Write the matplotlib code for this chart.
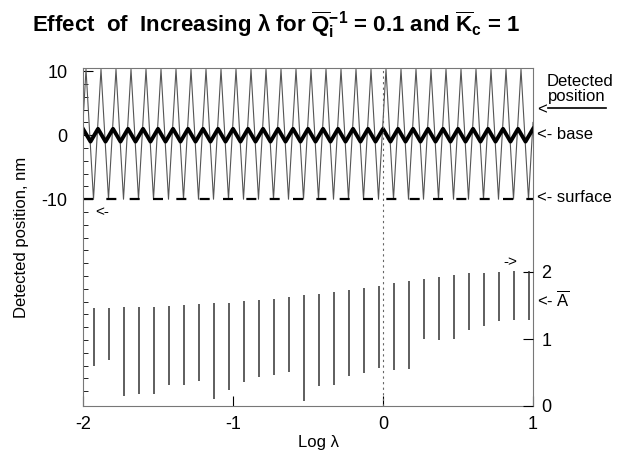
import matplotlib
matplotlib.use("Agg")
import matplotlib.pyplot as plt

plt.rcParams["font.family"] = ["Liberation Sans", "DejaVu Sans"]
plt.rcParams["mathtext.fontset"] = "custom"
plt.rcParams["mathtext.rm"] = "Liberation Sans"
plt.rcParams["mathtext.it"] = "Liberation Sans:italic"
plt.rcParams["mathtext.bf"] = "Liberation Sans:bold"
plt.rcParams["axes.unicode_minus"] = False

# ---- data (x = log lambda) ----
# thin curve: detected position, nm (peaks / troughs)
det_x = [-2.00, -1.98, -1.93, -1.88, -1.83, -1.78, -1.73, -1.68, -1.63, -1.58, -1.53,
         -1.48, -1.43, -1.38, -1.33, -1.28, -1.23, -1.18, -1.13, -1.08, -1.03,
         -0.98, -0.93, -0.88, -0.83, -0.78, -0.73, -0.68, -0.63, -0.58, -0.53,
         -0.48, -0.43, -0.38, -0.33, -0.28, -0.23, -0.18, -0.13, -0.08, -0.03,
         0.02, 0.07, 0.12, 0.17, 0.22, 0.27, 0.32, 0.37, 0.42, 0.47,
         0.52, 0.57, 0.62, 0.67, 0.72, 0.77, 0.82, 0.87, 0.92, 0.97, 1.00]
det_y = [2.0] + [10.3, -10.0] * 30 + [2.0]

# thick curve: base position, nm
base_x = [-2.00, -1.95, -1.90, -1.85, -1.80, -1.75, -1.70, -1.65, -1.60, -1.55,
          -1.50, -1.45, -1.40, -1.35, -1.30, -1.25, -1.20, -1.15, -1.10, -1.05,
          -1.00, -0.95, -0.90, -0.85, -0.80, -0.75, -0.70, -0.65, -0.60, -0.55,
          -0.50, -0.45, -0.40, -0.35, -0.30, -0.25, -0.20, -0.15, -0.10, -0.05,
          0.00, 0.05, 0.10, 0.15, 0.20, 0.25, 0.30, 0.35, 0.40, 0.45,
          0.50, 0.55, 0.60, 0.65, 0.70, 0.75, 0.80, 0.85, 0.90, 0.95, 1.00]
base_y = [1.0, -1.0] * 30 + [1.0]

surface_nm = -10.0

# amplitude A: one vertical spike per cycle (top / bottom)
spike_x = [-1.93, -1.83, -1.73, -1.63, -1.53, -1.43, -1.33, -1.23, -1.13, -1.03,
           -0.93, -0.83, -0.73, -0.63, -0.53, -0.43, -0.33, -0.23, -0.13, -0.03,
           0.07, 0.17, 0.27, 0.37, 0.47, 0.57, 0.67, 0.77, 0.87, 0.97]
spike_top = [1.47, 1.47, 1.48, 1.48, 1.48, 1.49, 1.51, 1.52, 1.54, 1.54,
             1.56, 1.58, 1.59, 1.62, 1.65, 1.67, 1.70, 1.73, 1.76, 1.79,
             1.83, 1.86, 1.90, 1.93, 1.96, 1.98, 1.99, 2.00, 2.02, 2.02]
spike_bot = [0.60, 0.68, 0.15, 0.18, 0.18, 0.31, 0.31, 0.38, 0.10, 0.24,
             0.36, 0.44, 0.47, 0.51, 0.08, 0.30, 0.31, 0.45, 0.50, 0.56,
             0.53, 0.55, 1.00, 0.99, 1.00, 1.13, 1.19, 1.27, 1.29, 1.28]

x_ticks = [-2, -1, 0, 1]
nm_ticks = [10, 0, -10]
nm_minor = [10, 8, 6, 4, 2, -2, -4, -6, -8, -12, -14, -16, -18, -20, -22, -24,
            -26, -28, -30, -32, -34, -36, -38, -40]
a_ticks = [0, 1, 2]

W, H = 622, 455


def fx(px):
    return px / W


def fy(py):
    return 1 - py / H


fig = plt.figure(figsize=(6.22, 4.55), dpi=100)
ax = fig.add_axes([fx(83), fy(406), (533 - 83) / W, (406 - 68) / H])

ax.plot(det_x, det_y, color="#555555", lw=0.8)
ax.plot(base_x, base_y, color="black", lw=2.8, solid_joinstyle="round")
ax.plot([-2, 1], [surface_nm, surface_nm], color="black", lw=1.6,
        linestyle=(0, (4.5, 6)))
ax.axvline(0, color="#666666", lw=0.8, linestyle=(0, (2, 3)))

ax.set_xlim(-2, 1)
ax.set_ylim(-42.3, 10.5)
ax.set_xticks(x_ticks)
ax.set_xticklabels([str(t) for t in x_ticks])
ax.set_yticks(nm_ticks)
ax.set_yticklabels([str(t) for t in nm_ticks])
ax.set_yticks(nm_minor, minor=True)
ax.tick_params(axis="both", which="major", direction="in", length=7, width=0.8,
               labelsize=13)
ax.tick_params(axis="y", which="major", pad=11)
ax.tick_params(axis="x", which="major", pad=7)
ax.tick_params(axis="y", which="minor", direction="in", length=3.5, width=0.6)
for s in ax.spines.values():
    s.set_color("#777777")
    s.set_linewidth(0.8)

# right axis for A
ax2 = ax.twinx()
ax2.set_ylim(0, (406 - 68) / 67)
ax2.vlines(spike_x, spike_bot, spike_top, color="#333333", lw=1.1)
ax2.set_yticks(a_ticks)
ax2.set_yticklabels([str(t) for t in a_ticks])
ax2.tick_params(axis="y", direction="in", length=7, width=0.8, labelsize=13, pad=6)
for s in ax2.spines.values():
    s.set_visible(False)

# labels
fig.text(fx(318), fy(442), "Log λ", fontsize=12, ha="center", va="center")
fig.text(fx(22), fy(237), "Detected position, nm", fontsize=12, rotation=90,
         ha="center", va="center")

title = (r"Effect  of  Increasing λ for $\overline{\mathbf{Q}}_{\mathbf{i}}^{\mathbf{-1}}$"
         r" = 0.1 and $\overline{\mathbf{K}}_{\mathbf{c}}$ = 1")
fig.text(fx(32), fy(25), title, fontsize=16, fontweight="bold", ha="left",
         va="center")

# right side annotations
fig.text(fx(547), fy(81), "Detected", fontsize=12, ha="left", va="center")
fig.text(fx(548), fy(97), "position", fontsize=12, ha="left", va="center")
fig.add_artist(plt.Line2D([fx(548), fx(606)], [fy(108), fy(108)], color="black",
                          lw=1.2))
fig.text(fx(537), fy(110), "<", fontsize=12, ha="left", va="center")
fig.text(fx(537), fy(134), "<- base", fontsize=12, ha="left", va="center")
fig.text(fx(537), fy(197), "<- surface", fontsize=12, ha="left", va="center")
fig.text(fx(537), fy(300), r"<- $\overline{\mathrm{A}}$", fontsize=12, ha="left",
         va="center")
fig.text(fx(95), fy(212), "<-", fontsize=11, ha="left", va="center")
fig.text(fx(503), fy(262), "->", fontsize=11, ha="left", va="center")

fig.savefig("out.png", dpi=100)
